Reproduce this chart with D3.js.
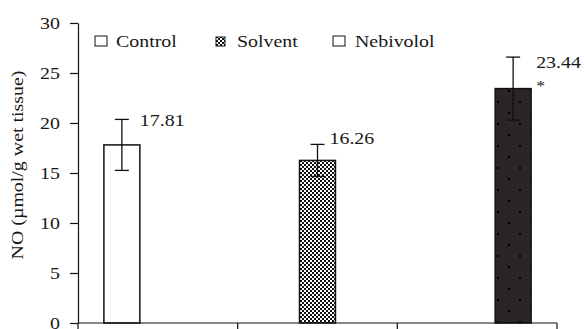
<!DOCTYPE html>
<html>
<head>
<meta charset="utf-8">
<script src="https://cdn.jsdelivr.net/npm/d3@7"></script>
<style>
  body { margin: 0; background: #fff; }
  text { font-family: "Liberation Serif", "DejaVu Serif", serif; fill: #1a1718; }
</style>
</head>
<body>
<div id="chart"></div>
<script>
var svg_width = 584;
var svg_height = 329;

// data
var series = ["Control", "Solvent", "Nebivolol"];
var groups = ["g1", "g2", "g3"];
var means = [17.81, 16.26, 23.44];
var errors = [2.55, 1.6, 3.15];
var marks = ["", "", "*"];
var yTicks = [0, 5, 10, 15, 20, 25, 30];

// small nudges for the value labels (layout only)
var labelDx = [0, -6, 5];
var labelDy = [0, 3, -2];

var wide = 1.17; // the original font is wider than Liberation Serif
var fs = 17;

var margin = {left: 78, right: 27, top: 23, bottom: 6};

var mysvg = d3.select("#chart")
  .append("svg")
  .attr("width", svg_width)
  .attr("height", svg_height);

var defs = mysvg.append("defs");

// checkerboard for solvent
var chk = defs.append("pattern")
  .attr("id", "chk")
  .attr("patternUnits", "userSpaceOnUse")
  .attr("width", 4).attr("height", 4);
chk.append("rect").attr("width", 4).attr("height", 4).attr("fill", "#fff");
chk.append("rect").attr("width", 2).attr("height", 2).attr("fill", "#111");
chk.append("rect").attr("x", 2).attr("y", 2).attr("width", 2).attr("height", 2).attr("fill", "#111");

// dark dotted fill for nebivolol
var dots = defs.append("pattern")
  .attr("id", "dots")
  .attr("patternUnits", "userSpaceOnUse")
  .attr("width", 22).attr("height", 22);
dots.append("rect").attr("width", 22).attr("height", 22).attr("fill", "#2a2526");
dots.append("rect").attr("x", 2).attr("y", 2).attr("width", 2).attr("height", 2).attr("fill", "#000");
dots.append("rect").attr("x", 13).attr("y", 13).attr("width", 2).attr("height", 2).attr("fill", "#000");

var fills = {"Control": "#fff", "Solvent": "url(#chk)", "Nebivolol": "url(#dots)"};

var x0 = d3.scaleBand()
  .domain(groups)
  .range([margin.left, svg_width - margin.right])
  .paddingInner(0)
  .paddingOuter(0);

var x1 = d3.scaleBand()
  .domain(series)
  .range([0, x0.bandwidth()])
  .paddingOuter(0.72)
  .paddingInner(0);

var y = d3.scaleLinear()
  .domain([0, 30])
  .range([svg_height - margin.bottom, margin.top]);

// put text at (px,py) stretched sideways
function place(sel, px, py, extra) {
  sel.attr("x", 0).attr("y", 0)
    .attr("transform", function(d, i) {
      var a = typeof px === "function" ? px(d, i) : px;
      var b = typeof py === "function" ? py(d, i) : py;
      return "translate(" + a + "," + b + ")" + (extra || "") + " scale(" + wide + ",1)";
    });
}

// bars: group i holds series i only
var rows = series.map(function(s, i) {
  return {name: s, group: groups[i], v: means[i], e: errors[i], mark: marks[i], i: i};
});

mysvg.selectAll("rect.bar")
  .data(rows)
  .enter()
  .append("rect")
  .attr("class", "bar")
  .attr("x", function(d){ return x0(d.group) + x1(d.name); })
  .attr("y", function(d){ return y(d.v); })
  .attr("width", x1.bandwidth())
  .attr("height", function(d){ return y(0) - y(d.v); })
  .attr("fill", function(d){ return fills[d.name]; })
  .attr("stroke", "#111")
  .attr("stroke-width", 1.5);

// error bars
var eb = mysvg.selectAll("g.err")
  .data(rows)
  .enter()
  .append("g")
  .attr("class", "err")
  .attr("stroke", "#111")
  .attr("stroke-width", 1.3);

function cx(d){ return x0(d.group) + x1(d.name) + x1.bandwidth() / 2; }

eb.append("line")
  .attr("x1", cx).attr("x2", cx)
  .attr("y1", function(d){ return y(d.v + d.e); })
  .attr("y2", function(d){ return y(d.v - d.e); });
eb.append("line")
  .attr("x1", function(d){ return cx(d) - 7; })
  .attr("x2", function(d){ return cx(d) + 7; })
  .attr("y1", function(d){ return y(d.v + d.e); })
  .attr("y2", function(d){ return y(d.v + d.e); });
eb.append("line")
  .attr("x1", function(d){ return cx(d) - 7; })
  .attr("x2", function(d){ return cx(d) + 7; })
  .attr("y1", function(d){ return y(d.v - d.e); })
  .attr("y2", function(d){ return y(d.v - d.e); });

// value labels
mysvg.selectAll("text.val")
  .data(rows)
  .enter()
  .append("text")
  .attr("class", "val")
  .attr("font-size", fs)
  .text(function(d){ return d.v.toFixed(2); })
  .call(place,
    function(d){ return cx(d) + 18 + labelDx[d.i]; },
    function(d){ return y(d.v) - 19 + labelDy[d.i]; });

mysvg.selectAll("text.mark")
  .data(rows.filter(function(d){ return d.mark; }))
  .enter()
  .append("text")
  .attr("class", "mark")
  .attr("font-size", 15)
  .text(function(d){ return d.mark; })
  .call(place,
    function(d){ return cx(d) + 23; },
    function(d){ return y(d.v) + 2; });

// y axis
var yAxis = mysvg.append("g")
  .attr("transform", "translate(" + margin.left + ",0)")
  .call(d3.axisLeft(y).tickValues(yTicks).tickSize(8).tickSizeOuter(0).tickPadding(9));
yAxis.selectAll("text")
  .attr("font-size", fs)
  .attr("dy", "0.34em")
  .attr("x", 0)
  .attr("transform", "translate(-18,0) scale(" + wide + ",1)");
yAxis.selectAll("line, path").attr("stroke", "#111").attr("stroke-width", 1.2);

// x axis with ticks at group boundaries
var xAxis = mysvg.append("g")
  .attr("class", "xaxis");
xAxis.append("line")
  .attr("x1", x0.range()[0]).attr("x2", x0.range()[1])
  .attr("y1", y(0)).attr("y2", y(0))
  .attr("stroke", "#111").attr("stroke-width", 1.2);
var bounds = groups.map(function(g){ return x0(g); }).concat([x0.range()[1]]);
xAxis.selectAll("line.tk")
  .data(bounds)
  .enter()
  .append("line")
  .attr("class", "tk")
  .attr("x1", function(d){ return d; }).attr("x2", function(d){ return d; })
  .attr("y1", y(0)).attr("y2", y(0) + 8)
  .attr("stroke", "#111").attr("stroke-width", 1.2);

// y label
mysvg.append("text")
  .attr("text-anchor", "middle")
  .attr("font-size", fs)
  .text("NO (\u00b5mol/g wet tissue)")
  .call(place, 23, 165, " rotate(-90)");

// legend
var legX = [95, 216, 333];
var lg = mysvg.selectAll("g.leg")
  .data(series)
  .enter()
  .append("g")
  .attr("class", "leg")
  .attr("transform", function(d, i){ return "translate(" + legX[i] + ",36)"; });
lg.append("rect")
  .attr("width", function(d){ return d === "Solvent" ? 9 : 12; })
  .attr("height", function(d){ return d === "Solvent" ? 9 : 10; })
  .attr("y", function(d){ return d === "Solvent" ? 1 : 0; })
  .attr("fill", function(d){ return d === "Nebivolol" ? "#fff" : fills[d]; })
  .attr("stroke", "#111")
  .attr("stroke-width", 1);
lg.append("text")
  .attr("font-size", fs)
  .text(function(d){ return d; })
  .call(place, function(d){ return d === "Nebivolol" ? 22 : 21; }, 11);
</script>
</body>
</html>
